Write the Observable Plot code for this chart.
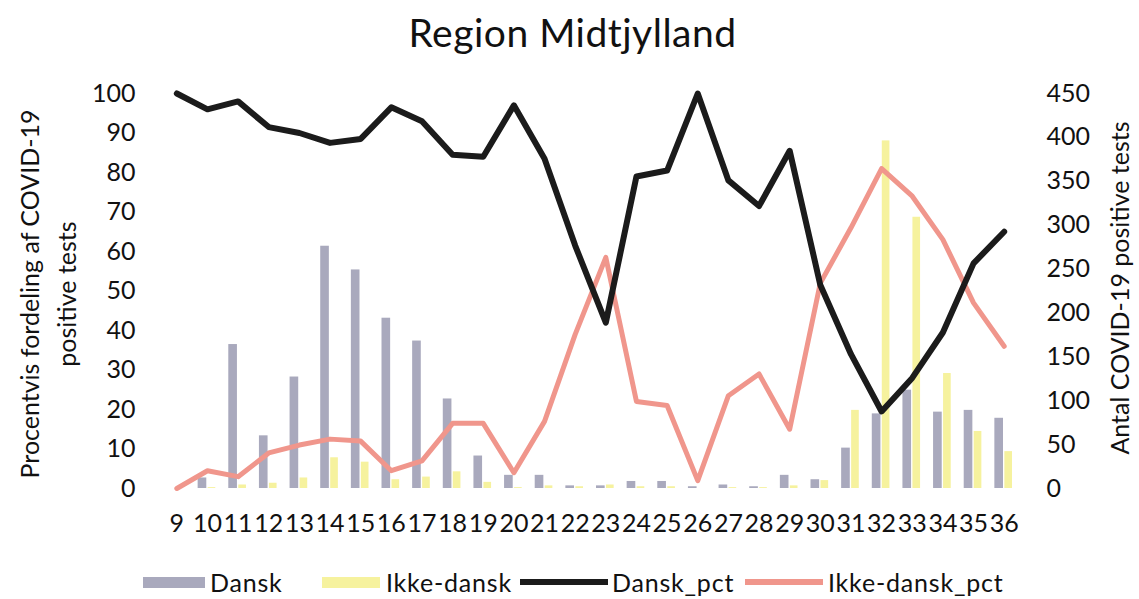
<!DOCTYPE html>
<html>
<head>
<meta charset="utf-8">
<script src="https://cdn.jsdelivr.net/npm/d3@7"></script>
<script src="https://cdn.jsdelivr.net/npm/@observablehq/plot@0.6"></script>
<style>
  html, body { margin: 0; padding: 0; background: #fff; overflow: hidden; font-family: Lato, "Open Sans", sans-serif; }
  #wrap { position: relative; width: 1139px; height: 599px; overflow: hidden; }
  #chart svg { display: block; }
  #title { position: absolute; top: 9px; left: 0; width: 1145px; text-align: center; font-size: 39px; color: #111; letter-spacing: 0.5px; }
  #legend { position: absolute; top: 566px; left: 0; width: 1139px; height: 32px; font-size: 25px; color: #111; }
  .sw { position: absolute; }
  .lt { position: absolute; top: 0; line-height: 32px; letter-spacing: 0.8px; }
</style>
</head>
<body>
<div id="wrap">
  <div id="chart"></div>
  <div id="title">Region Midtjylland</div>
  <div id="legend"></div>
</div>
<script>
const weeks = [9,10,11,12,13,14,15,16,17,18,19,20,21,22,23,24,25,26,27,28,29,30,31,32,33,34,35,36];
const dansk = [0,12,164,60,127,276,249,194,168,102,37,15,15,3,3,8,8,2,4,2,15,10,46,85,112,87,89,80];
const ikkeDansk = [0,1,4,6,12,35,30,10,13,19,7,1,3,2,4,2,2,0,1,1,3,9,89,396,309,131,65,42];
const danskPct = [100,96,98,91.5,90,87.5,88.5,96.5,93,84.5,84,97,83.5,61.5,42,79,80.5,100,78,71.5,85.5,51.5,34,19.5,28,39.5,57,65];
const ikkePct = [0,4.5,3,9,11,12.5,12,4.5,7,16.5,16.5,4,17,39,58.5,22,21,2,23.5,29,15,52,66,81,74,63,47,36];
const pctTicks = [0,10,20,30,40,50,60,70,80,90,100];
const countTicks = [0,50,100,150,200,250,300,350,400,450];
const countMax = 450;

const colDansk = "#a9a9bd";
const colIkke = "#f6f29e";
const colDanskPct = "#1b1b1b";
const colIkkePct = "#f0968c";

const toPct = v => v * 100 / countMax;

const chart = Plot.plot({
  width: 1139,
  height: 599,
  marginTop: 93,
  marginBottom: 111,
  marginLeft: 161,
  marginRight: 120,
  style: { fontFamily: "Lato, 'Open Sans', sans-serif", fontSize: "25px", color: "#111", background: "transparent" },
  x: { type: "band", domain: weeks, padding: 0, round: false },
  y: { domain: [0, 100] },
  marks: [
    Plot.barY(weeks, { x: d => d, y: (d, i) => toPct(dansk[i]), fill: colDansk, insetLeft: 6, insetRight: 16 }),
    Plot.barY(weeks, { x: d => d, y: (d, i) => toPct(ikkeDansk[i]), fill: colIkke, insetLeft: 16, insetRight: 7 }),
    Plot.line(weeks, { x: d => d, y: (d, i) => ikkePct[i], stroke: colIkkePct, strokeWidth: 5, curve: "linear" }),
    Plot.line(weeks, { x: d => d, y: (d, i) => danskPct[i], stroke: colDanskPct, strokeWidth: 6, curve: "linear" }),
    Plot.axisX({ tickSize: 0, tickPadding: 26, label: null, fontSize: 25 }),
    Plot.axisY(pctTicks, { anchor: "left", tickSize: 0, tickPadding: 26, label: null, fontSize: 25 }),
    Plot.axisY(countTicks.map(toPct), { anchor: "right", tickSize: 0, tickPadding: 27, label: null, fontSize: 25,
      tickFormat: d => String(Math.round(d * countMax / 100)) }),
    Plot.text(["Procentvis fordeling af COVID-19"], { frameAnchor: "left", textAnchor: "middle", dx: -131, dy: 3, rotate: -90, fontSize: 25, fill: "#111" }),
    Plot.text(["positive tests"], { frameAnchor: "left", textAnchor: "middle", dx: -94, dy: 3, rotate: -90, fontSize: 25, fill: "#111" }),
    Plot.text(["Antal COVID-19 positive tests"], { frameAnchor: "right", textAnchor: "middle", dx: 101, dy: -3, rotate: -90, fontSize: 25, fill: "#111" })
  ]
});
document.getElementById("chart").appendChild(chart);

const legendItems = [
  { label: "Dansk", color: colDansk, h: 11, x0: 143, x1: 205, tx: 210 },
  { label: "Ikke-dansk", color: colIkke, h: 11, x0: 322, x1: 380, tx: 386 },
  { label: "Dansk_pct", color: colDanskPct, h: 6, x0: 520, x1: 608, tx: 612 },
  { label: "Ikke-dansk_pct", color: colIkkePct, h: 6, x0: 745, x1: 823, tx: 828 }
];
const lg = document.getElementById("legend");
for (const it of legendItems) {
  const s = document.createElement("div");
  s.className = "sw";
  s.style.left = it.x0 + "px";
  s.style.width = (it.x1 - it.x0) + "px";
  s.style.height = it.h + "px";
  s.style.top = (16 - it.h / 2) + "px";
  s.style.background = it.color;
  lg.appendChild(s);
  const t = document.createElement("div");
  t.className = "lt";
  t.style.left = it.tx + "px";
  t.textContent = it.label;
  lg.appendChild(t);
}
</script>
</body>
</html>
